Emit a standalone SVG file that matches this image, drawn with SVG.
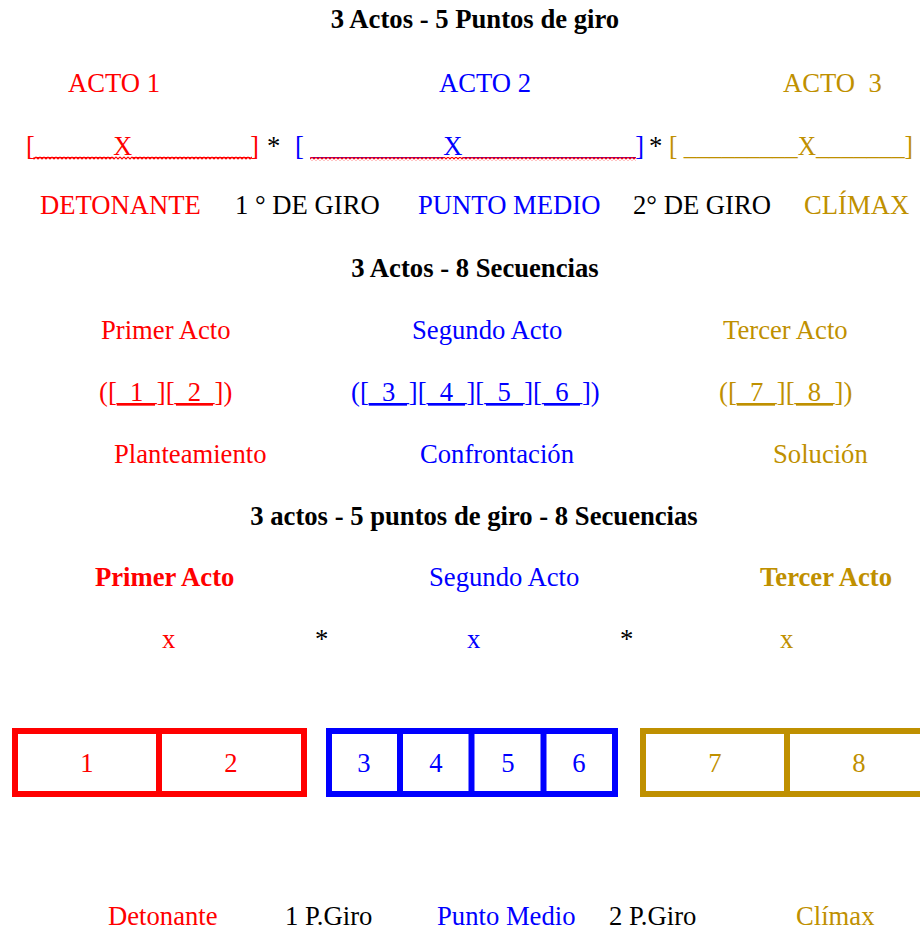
<svg xmlns="http://www.w3.org/2000/svg" width="920" height="930" viewBox="0 0 920 930">
<style>
text{font-family:"Liberation Serif","Times New Roman",serif;font-size:26.67px;}
.b{font-weight:bold;}
.r{fill:#ff0000;}
.bl{fill:#0000ff;}
.g{fill:#bf9000;}
.k{fill:#000000;}
.c{text-anchor:middle;}
.u{text-decoration:underline;}
.pre{white-space:pre;}
.box{fill:none;stroke-width:6;}
</style>
<defs>
<pattern id="squig" x="0" y="0" width="4" height="4" patternUnits="userSpaceOnUse">
<path d="M0,1 L2,3 L4,1" fill="none" stroke="#ff0000" stroke-width="1.2"/>
</pattern>
</defs>
<rect width="920" height="930" fill="#ffffff"/>

<g id="section1">
<text id="title1" class="b k c" x="475" y="28">3 Actos - 5 Puntos de giro</text>
<g id="acts1">
<text class="r" x="68" y="92">ACTO 1</text>
<text class="bl" x="439" y="92">ACTO 2</text>
<text class="g pre" x="783" y="92" xml:space="preserve">ACTO  3</text>
</g>
<g id="brackets1">
<text class="r" x="26" y="155" textLength="233" lengthAdjust="spacingAndGlyphs">[______X_________]</text>
<rect x="33" y="156" width="219" height="4" fill="url(#squig)"/>
<text class="k" x="267" y="155">*</text>
<text class="bl pre" x="295" y="155" textLength="349" lengthAdjust="spacingAndGlyphs" xml:space="preserve">[ __________X_____________]</text>
<rect x="310" y="157" width="326" height="4" fill="url(#squig)"/>
<text class="k" x="649" y="155">*</text>
<text class="g pre" x="669" y="155" textLength="244" lengthAdjust="spacingAndGlyphs" xml:space="preserve">[ _________X_______]</text>
</g>
<g id="points1">
<text class="r" x="40" y="214">DETONANTE</text>
<text class="k" x="235" y="214">1 ° DE GIRO</text>
<text class="bl" x="418" y="214">PUNTO MEDIO</text>
<text class="k" x="633" y="214">2° DE GIRO</text>
<text class="g" x="804" y="214">CLÍMAX</text>
</g>
</g>

<g id="section2">
<text id="title2" class="b k c" x="475" y="277">3 Actos - 8 Secuencias</text>
<g id="acts2">
<text class="r" x="101" y="339">Primer Acto</text>
<text class="bl" x="412" y="339">Segundo Acto</text>
<text class="g" x="723" y="339">Tercer Acto</text>
</g>
<g id="seqs2">
<text class="r" x="99" y="401">([<tspan class="u">_1_][_2_]</tspan>)</text>
<text class="bl" x="351" y="401">([<tspan class="u">_3_][_4_][_5_][_6_]</tspan>)</text>
<text class="g" x="719" y="401">([<tspan class="u">_7_][_8_]</tspan>)</text>
</g>
<g id="phases2">
<text class="r" x="114" y="463">Planteamiento</text>
<text class="bl" x="420" y="463">Confrontación</text>
<text class="g" x="773" y="463">Solución</text>
</g>
</g>

<g id="section3">
<text id="title3" class="b k c" x="474" y="525">3 actos - 5 puntos de giro - 8 Secuencias</text>
<g id="acts3">
<text class="r b" x="95" y="586">Primer Acto</text>
<text class="bl" x="429" y="586">Segundo Acto</text>
<text class="g b" x="760" y="586">Tercer Acto</text>
</g>
<g id="marks3">
<text class="r" x="162" y="648">x</text>
<text class="k" x="315" y="648">*</text>
<text class="bl" x="467" y="648">x</text>
<text class="k" x="620" y="648">*</text>
<text class="g" x="780" y="648">x</text>
</g>
</g>

<g id="connectors"></g>

<g id="act1-boxes">
<rect class="box" x="15" y="731" width="289" height="63" stroke="#ff0000"/>
<line x1="159" y1="731" x2="159" y2="794" stroke="#ff0000" stroke-width="6"/>
<text class="r c" x="87" y="772">1</text>
<text class="r c" x="231" y="772">2</text>
</g>
<g id="act2-boxes">
<rect class="box" x="329" y="731" width="286" height="63" stroke="#0000ff"/>
<line x1="400" y1="731" x2="400" y2="794" stroke="#0000ff" stroke-width="6"/>
<line x1="471.5" y1="731" x2="471.5" y2="794" stroke="#0000ff" stroke-width="6"/>
<line x1="543.5" y1="731" x2="543.5" y2="794" stroke="#0000ff" stroke-width="6"/>
<text class="bl c" x="364" y="772">3</text>
<text class="bl c" x="436" y="772">4</text>
<text class="bl c" x="508" y="772">5</text>
<text class="bl c" x="579" y="772">6</text>
</g>
<g id="act3-boxes">
<rect class="box" x="643" y="731" width="290" height="63" stroke="#bf9000"/>
<line x1="787" y1="731" x2="787" y2="794" stroke="#bf9000" stroke-width="6"/>
<text class="g c" x="715" y="772">7</text>
<text class="g c" x="859" y="772">8</text>
</g>

<g id="points3">
<text class="r" x="108" y="925">Detonante</text>
<text class="k" x="285" y="925">1 P.Giro</text>
<text class="bl" x="437" y="925">Punto Medio</text>
<text class="k" x="609" y="925">2 P.Giro</text>
<text class="g" x="796" y="925">Clímax</text>
</g>
</svg>
